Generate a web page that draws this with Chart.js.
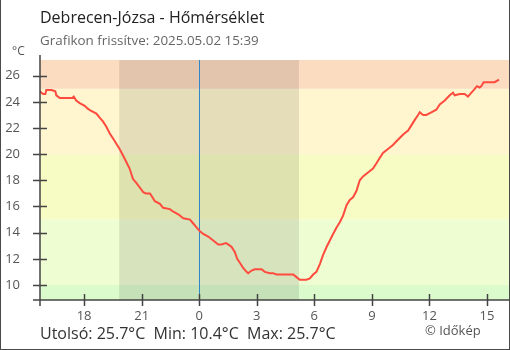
<!DOCTYPE html>
<html lang="hu">
<head>
<meta charset="utf-8">
<title>Debrecen-Józsa - Hőmérséklet</title>
<script src="https://cdn.jsdelivr.net/npm/chart.js@4.4.1/dist/chart.umd.min.js"></script>
<style>
  html, body { margin: 0; padding: 0; background: #fff; }
  #wrap { position: relative; width: 510px; height: 350px; font-family: "Open Sans", sans-serif; overflow: hidden; }
  #wrap canvas { position: absolute; left: 0; top: 0; }
  .frame { position: absolute; inset: 0; border: 1px solid #4a4a4a; border-top: none; box-sizing: border-box; pointer-events: none; }
  .txt { position: absolute; white-space: pre; line-height: 1; }
  #title { left: 40px; top: 9px; font-size: 16px; color: #222; }
  #sub { left: 40px; top: 34px; font-size: 13.4px; color: #666; }
  #unit { left: 12px; top: 45px; font-size: 12px; color: #555; }
  #stats { left: 40px; top: 325px; font-size: 16px; color: #333; }
  #copy { left: 425px; top: 324px; font-size: 13px; color: #555; }
</style>
</head>
<body>
<div id="wrap">
  <canvas id="c" width="510" height="350"></canvas>
  <div class="txt" id="title">Debrecen-Józsa - Hőmérséklet</div>
  <div class="txt" id="sub">Grafikon frissítve: 2025.05.02 15:39</div>
  <div class="txt" id="unit">°C</div>
  <div class="txt" id="stats"></div>
  <div class="txt" id="copy">© Időkép</div>
  <div class="frame"></div>
</div>
<script>
// idő: órák éjfélhez képest (negatív = előző nap), hőmérséklet °C
const hours = [
  -8.31, -8.14, -8.02, -7.97, -7.7, -7.5, -7.45, -7.27, -6.61, -6.54,
  -6.41, -6.23, -5.97, -5.83, -5.63, -5.36, -5.19, -5.02, -4.84, -4.67,
  -4.49, -4.32, -4.15, -3.97, -3.8, -3.63, -3.45, -3.28, -3.02, -2.92,
  -2.78, -2.57, -2.48, -2.31, -2.05, -1.88, -1.53, -1.35, -1.09, -0.83,
  -0.48, -0.31, -0.14, 0.04, 0.21, 0.47, 0.73, 0.99, 1.17, 1.39,
  1.51, 1.69, 1.86, 1.98, 2.12, 2.29, 2.47, 2.55, 2.73, 2.9,
  3.25, 3.42, 3.68, 3.85, 4.03, 4.9, 5.07, 5.24, 5.59, 5.77,
  5.94, 6.11, 6.29, 6.46, 6.64, 6.81, 6.98, 7.16, 7.33, 7.5,
  7.68, 7.85, 8.02, 8.2, 8.37, 8.54, 8.8, 9.06, 9.24, 9.41,
  9.58, 9.84, 10.1, 10.36, 10.63, 10.89, 11.06, 11.23, 11.41, 11.5,
  11.67, 11.84, 12.1, 12.36, 12.54, 12.8, 13.06, 13.23, 13.32, 13.58,
  13.84, 14.01, 14.19, 14.31, 14.48, 14.62, 14.71, 14.83, 15.14, 15.4,
  15.63
];
const temps = [
  24.8, 24.6, 24.6, 24.9, 24.9, 24.8, 24.5, 24.3, 24.3, 24.4,
  24.1, 23.9, 23.7, 23.5, 23.3, 23.1, 22.8, 22.5, 22.1, 21.6,
  21.2, 20.8, 20.4, 19.9, 19.4, 18.9, 18.1, 17.8, 17.3, 17.1,
  17.0, 17.0, 16.8, 16.4, 16.2, 15.9, 15.8, 15.6, 15.4, 15.1,
  15.0, 14.7, 14.4, 14.1, 13.9, 13.7, 13.4, 13.1, 13.1, 13.2,
  13.1, 12.9, 12.5, 12.0, 11.7, 11.3, 11.0, 10.9, 11.1, 11.2,
  11.2, 11.0, 10.9, 10.9, 10.8, 10.8, 10.6, 10.4, 10.4, 10.5,
  10.8, 11.0, 11.6, 12.3, 12.9, 13.4, 13.9, 14.4, 14.8, 15.3,
  16.1, 16.5, 16.7, 17.2, 18.0, 18.3, 18.6, 18.9, 19.3, 19.7,
  20.1, 20.4, 20.7, 21.1, 21.5, 21.8, 22.2, 22.6, 23.0, 23.2,
  23.0, 23.0, 23.2, 23.4, 23.8, 24.1, 24.5, 24.7, 24.5, 24.6,
  24.6, 24.4, 24.7, 24.9, 25.2, 25.1, 25.2, 25.5, 25.5, 25.5,
  25.7
];
const xTicks = [-6, -3, 0, 3, 6, 9, 12, 15];
const yTicks = [10, 12, 14, 16, 18, 20, 22, 24, 26];
const xRange = [-8.3, 16.15];
const yRange = [8.85, 27.2];
// hőmérsékleti sávok alsó/felső határa
const bandFrom = [-50, 10, 15, 20, 25];
const bandTo = [10, 15, 20, 25, 50];
// napnyugta - napkelte
const nightFrom = -4.17;
const nightTo = 5.2;

const BAND_COLORS = ["#dcfbcc", "#effdd2", "#f6fcc3", "#fff6cf", "#fcdcc0"];
const AXIS = "#444";

const fmt = (v) => v.toFixed(1);
document.getElementById("stats").textContent =
  `Utolsó: ${fmt(temps[temps.length - 1])}°C  Min: ${fmt(Math.min(...temps))}°C  Max: ${fmt(Math.max(...temps))}°C`;

// háttér: színes sávok, éjszakai árnyék, éjféli vonal
const backdrop = {
  id: "backdrop",
  beforeDatasetsDraw(chart) {
    const { ctx, chartArea: a, scales } = chart;
    ctx.save();
    bandFrom.forEach((from, i) => {
      const y1 = Math.max(a.top, scales.y.getPixelForValue(bandTo[i]));
      const y2 = Math.min(a.bottom, scales.y.getPixelForValue(from));
      if (y2 <= y1) return;
      ctx.fillStyle = BAND_COLORS[i];
      ctx.fillRect(a.left, y1, a.right - a.left, y2 - y1);
    });
    const n1 = scales.x.getPixelForValue(nightFrom);
    const n2 = scales.x.getPixelForValue(nightTo);
    ctx.fillStyle = "rgba(0,0,0,0.1)";
    ctx.fillRect(n1, a.top, n2 - n1, a.bottom - a.top);
    const mx = Math.round(scales.x.getPixelForValue(0)) + 0.5;
    ctx.strokeStyle = "#2f86c8";
    ctx.lineWidth = 1;
    ctx.beginPath();
    ctx.moveTo(mx, a.top);
    ctx.lineTo(mx, a.bottom);
    ctx.stroke();
    ctx.restore();
  },
};

// tengelyek és az átnyúló osztásjelek
const axes = {
  id: "axes",
  afterDraw(chart) {
    const { ctx, chartArea: a, scales } = chart;
    ctx.save();
    ctx.strokeStyle = AXIS;
    ctx.lineWidth = 1.5;
    ctx.beginPath();
    ctx.moveTo(a.left, a.top - 5);
    ctx.lineTo(a.left, a.bottom + 6);
    ctx.moveTo(a.left - 7, a.bottom);
    ctx.lineTo(a.right, a.bottom);
    scales.y.ticks.forEach((t) => {
      const y = Math.round(scales.y.getPixelForValue(t.value)) + 0.5;
      ctx.moveTo(a.left - 7, y);
      ctx.lineTo(a.left + 7, y);
    });
    scales.x.ticks.forEach((t) => {
      const x = Math.round(scales.x.getPixelForValue(t.value)) + 0.5;
      ctx.moveTo(x, a.bottom - 6);
      ctx.lineTo(x, a.bottom + 6);
    });
    ctx.stroke();
    ctx.restore();
  },
};

new Chart(document.getElementById("c"), {
  type: "line",
  data: {
    datasets: [{
      data: hours.map((h, i) => ({ x: h, y: temps[i] })),
      borderColor: "#ff4b3e",
      borderWidth: 2,
      pointRadius: 0,
      tension: 0,
      fill: false,
    }],
  },
  options: {
    responsive: false,
    animation: false,
    devicePixelRatio: 1,
    layout: { padding: { top: 60, right: 1, left: 0, bottom: 0 } },
    plugins: { legend: { display: false }, tooltip: { enabled: false } },
    scales: {
      x: {
        type: "linear",
        min: xRange[0],
        max: xRange[1],
        afterBuildTicks: (s) => { s.ticks = xTicks.map((v) => ({ value: v })); },
        afterFit: (s) => { s.height = 50; },
        grid: { display: false, drawTicks: false },
        border: { display: false },
        ticks: {
          padding: 8,
          color: "#555",
          font: { family: "Open Sans", size: 13 },
          callback: (v) => String(((v % 24) + 24) % 24),
        },
      },
      y: {
        min: yRange[0],
        max: yRange[1],
        afterBuildTicks: (s) => { s.ticks = yTicks.map((v) => ({ value: v })); },
        afterFit: (s) => { s.width = 40; },
        grid: { display: false, drawTicks: false },
        border: { display: false },
        ticks: {
          padding: 20,
          color: "#555",
          font: { family: "Open Sans", size: 13 },
        },
      },
    },
  },
  plugins: [backdrop, axes],
});
</script>
</body>
</html>
